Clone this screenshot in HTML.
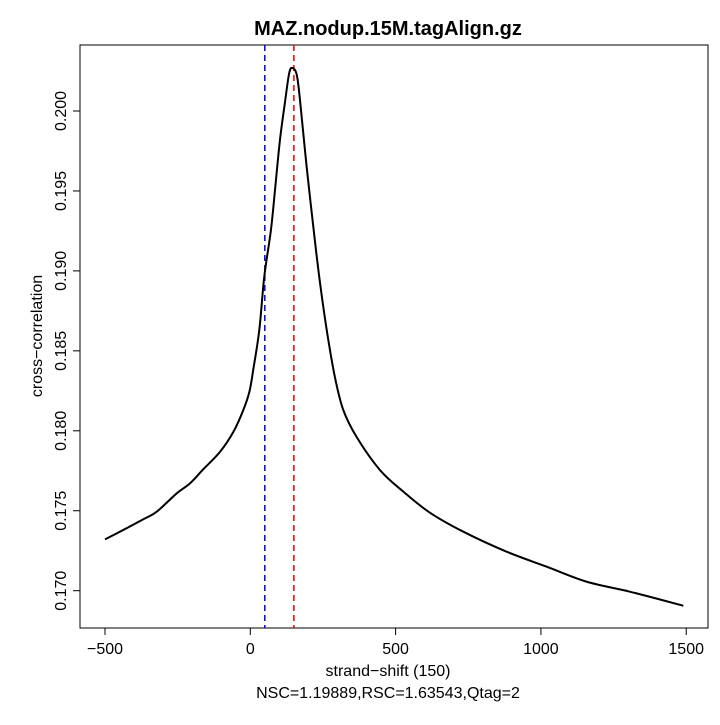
<!DOCTYPE html>
<html><head><meta charset="utf-8"><style>
body{margin:0;background:#fff}
svg text{font-family:"Liberation Sans",sans-serif;fill:#000}
</style></head><body>
<svg id="chart" width="720" height="720">
<text x="388" y="35" font-size="20" font-weight="bold" text-anchor="middle">MAZ.nodup.15M.tagAlign.gz</text>
<rect x="80" y="45" width="628" height="583" fill="none" stroke="#000" stroke-width="1"/>
<g id="xt"></g><g id="yt"></g><g id="marks"></g>
<text x="388" y="676" font-size="16" text-anchor="middle">strand−shift (150)</text>
<text x="388" y="698" font-size="16" text-anchor="middle">NSC=1.19889,RSC=1.63543,Qtag=2</text>
<text transform="translate(42,336) rotate(-90)" font-size="16" text-anchor="middle">cross−correlation</text>
</svg>
<script>
const shifts=[-500,-437,-368,-322,-253,-207,-162,-104,-58,-24,-3,10,31,48,71,85,102,119,134,146,160,171,194,222,240,263,291,320,366,446,527,618,733,882,1020,1158,1306,1490];
const values=[0.17321,0.17380,0.17447,0.17494,0.17609,0.17672,0.17759,0.17869,0.17994,0.18130,0.18245,0.18380,0.18631,0.18962,0.19256,0.19506,0.19818,0.20050,0.20238,0.20269,0.20225,0.20069,0.19650,0.19193,0.18924,0.18630,0.18337,0.18130,0.17961,0.17755,0.17619,0.17488,0.17369,0.17244,0.17150,0.17056,0.16994,0.16906];
const xTicks=[-500,0,500,1000,1500];
const yTicks=[0.170,0.175,0.180,0.185,0.190,0.195,0.200];
const minLine=[50];
const peakLine=[150];
const NS="http://www.w3.org/2000/svg";
const X=s=>250.3+s*0.2906;
const Y=v=>590.7-(v-0.170)*15990;
function mk(t,a,p){const e=document.createElementNS(NS,t);for(const k in a)e.setAttribute(k,a[k]);p.appendChild(e);return e;}
const xt=document.getElementById('xt'),yt=document.getElementById('yt'),m=document.getElementById('marks');
xTicks.forEach(t=>{
 const l=mk('line',{x1:X(t),x2:X(t),y1:628,y2:635,stroke:'#000'},xt);
 
 
 const tx=mk('text',{x:X(t),y:654,'font-size':16,'text-anchor':'middle'},xt);
 
 
 tx.textContent=t<0?'−'+(-t):String(t);
});
yTicks.forEach(t=>{
 const l=mk('line',{x1:73,x2:80,y1:Y(t),y2:Y(t),stroke:'#000'},yt);
 
 
 const tx=mk('text',{transform:`translate(66,${Y(t)}) rotate(-90)`,'font-size':16,'text-anchor':'middle'},yt);
 
 
 tx.textContent=t.toFixed(3);
});
minLine.forEach(s=>{
 const l=mk('line',{x1:X(s),x2:X(s),y1:45,y2:628,stroke:'#0000dd','stroke-width':1.5,'stroke-dasharray':'6,4'},m);
 
 
});
peakLine.forEach(s=>{
 const l=mk('line',{x1:X(s),x2:X(s),y1:45,y2:628,stroke:'#ee0000','stroke-width':1.5,'stroke-dasharray':'6,4'},m);
 
 
});
const pts=shifts.map((s,i)=>[X(s),Y(values[i])]);
let d='M'+pts[0][0]+','+pts[0][1];
for(let i=0;i<pts.length-1;i++){
 const p0=pts[Math.max(0,i-1)],p1=pts[i],p2=pts[i+1],p3=pts[Math.min(pts.length-1,i+2)];
 const c1=[p1[0]+(p2[0]-p0[0])/6,p1[1]+(p2[1]-p0[1])/6];
 const c2=[p2[0]-(p3[0]-p1[0])/6,p2[1]-(p3[1]-p1[1])/6];
 d+=` C${c1[0]},${c1[1]} ${c2[0]},${c2[1]} ${p2[0]},${p2[1]}`;
}
const p=mk('path',{d:d,fill:'none',stroke:'#000','stroke-width':2,'stroke-linejoin':'round'},m);


</script>
</body></html>
